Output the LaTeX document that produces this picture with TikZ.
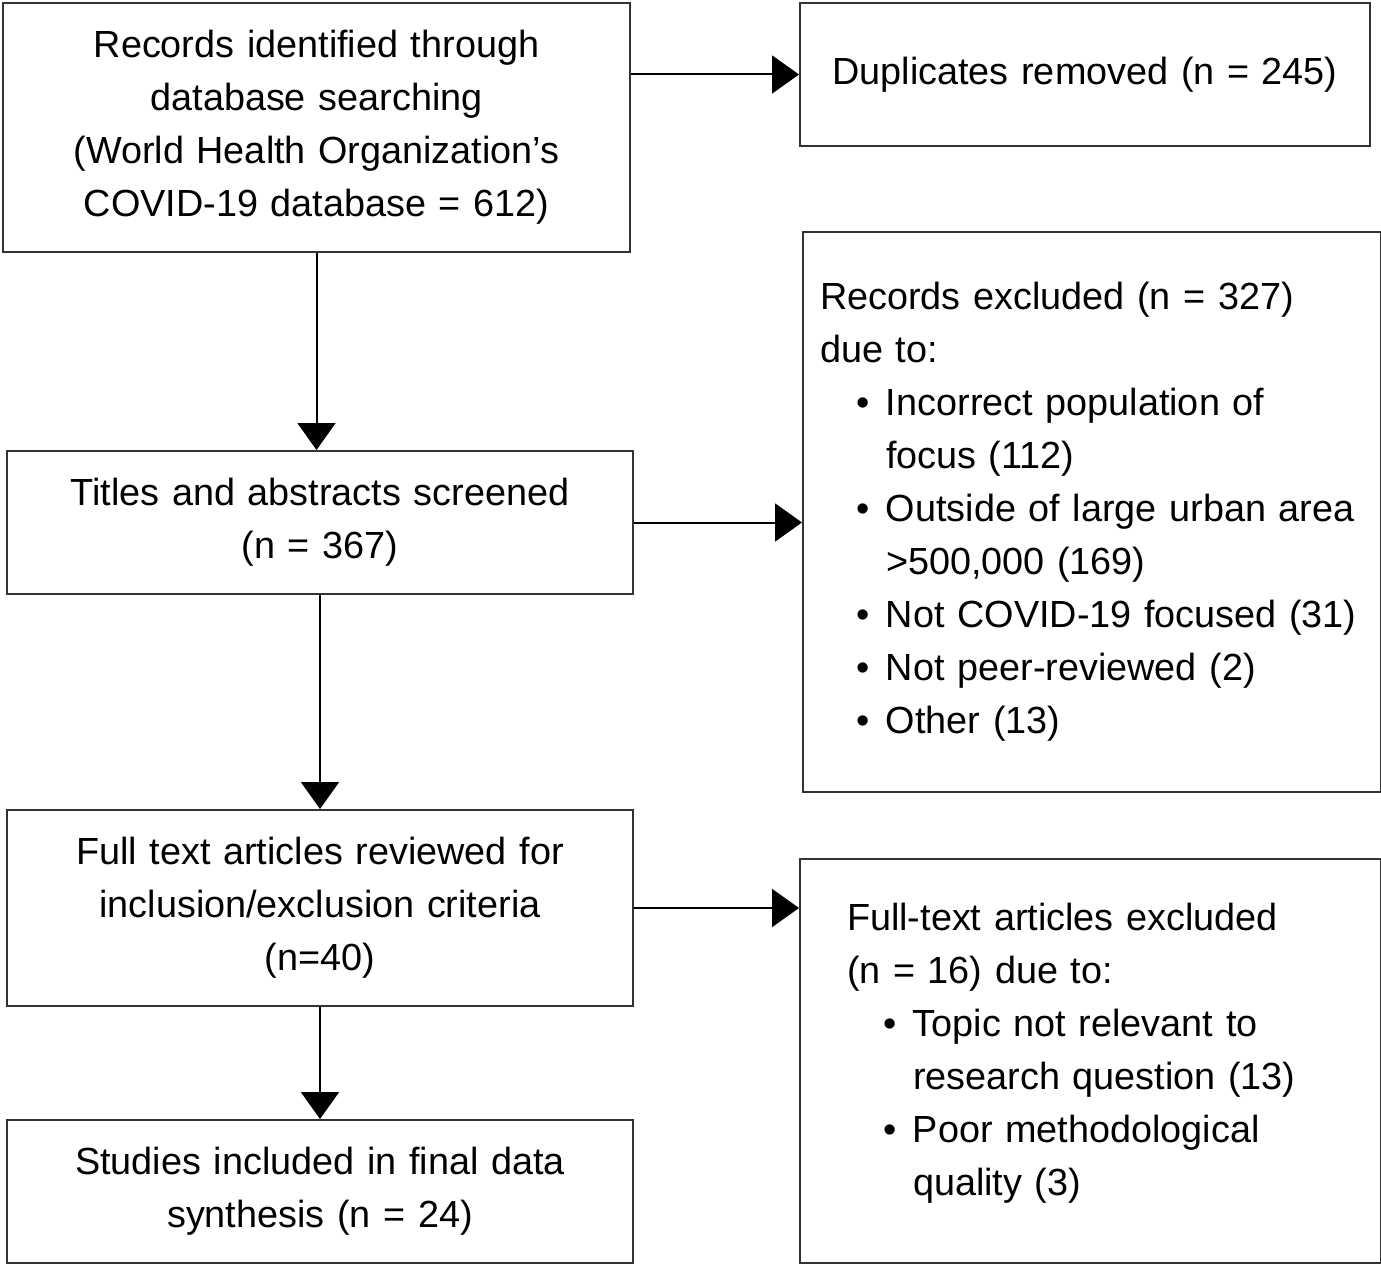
\documentclass[tikz,border=0pt]{standalone}
\usepackage{fontspec}
\setmainfont{Liberation Sans}
\usetikzlibrary{arrows.meta}
\newcommand\bul{\makebox[66pt][l]{\hspace{36pt}\textbullet}}
\newcommand\ind{\hspace*{66pt}}
\begin{document}
\begin{tikzpicture}[x=1pt,y=-1pt,
  box/.style={draw=black!80,line width=2pt,anchor=north west,inner sep=0pt,
    font=\fontsize{37.8}{53}\selectfont},
  cbox/.style={box,align=center},
  lbox/.style={box,align=left},
  arr/.style={line width=2pt,-{Triangle[length=27pt,width=38pt]}}]
\useasboundingbox (0,0) rectangle (1381,1265);
\node[cbox,minimum width=627pt,minimum height=249pt,text width=600pt] (rec) at (2,2)
  {Records identified through\\database searching\\(World Health Organization’s\\COVID-19 database = 612)};
\node[cbox,minimum width=570pt,minimum height=143pt,text width=550pt] (dup) at (799,2)
  {Duplicates removed (n = 245)};
\node[cbox,minimum width=626pt,minimum height=143pt,text width=600pt] (tit) at (6,450)
  {Titles and abstracts screened\\(n = 367)};
\node[lbox,minimum width=578pt,minimum height=560pt,inner xsep=17pt,text width=544pt] (exc) at (802,231)
  {Records excluded (n = 327)\\due to:\\
   \mbox{\bul Incorrect population of}\\\ind focus (112)\\
   \mbox{\bul Outside of large urban area}\\\ind >500,000 (169)\\
   \mbox{\bul Not COVID-19 focused (31)}\\
   \mbox{\bul Not peer-reviewed (2)}\\
   \mbox{\bul Other (13)}};
\node[cbox,minimum width=626pt,minimum height=196pt,text width=600pt] (full) at (6,809)
  {Full text articles reviewed for\\inclusion/exclusion criteria\\(n=40)};
\node[lbox,minimum width=581pt,minimum height=404pt,inner xsep=47pt,text width=487pt] (ft) at (799,858)
  {Full-text articles excluded\\(n = 16) due to:\\
   \mbox{\bul Topic not relevant to}\\\ind research question (13)\\
   \mbox{\bul Poor methodological}\\\ind quality (3)\par\kern16pt};
\node[cbox,minimum width=626pt,minimum height=143pt,text width=600pt] (stud) at (6,1119)
  {Studies included in final data\\synthesis (n = 24)};
\draw[arr] (rec.east |- dup.west) -- (dup.west);
\draw[arr] (rec.south) -- (rec.south |- tit.north);
\draw[arr] (tit.east) -- (tit.east -| exc.west);
\draw[arr] (tit.south) -- (tit.south |- full.north);
\draw[arr] (full.east) -- (full.east -| ft.west);
\draw[arr] (full.south) -- (full.south |- stud.north);
\end{tikzpicture}
\end{document}
